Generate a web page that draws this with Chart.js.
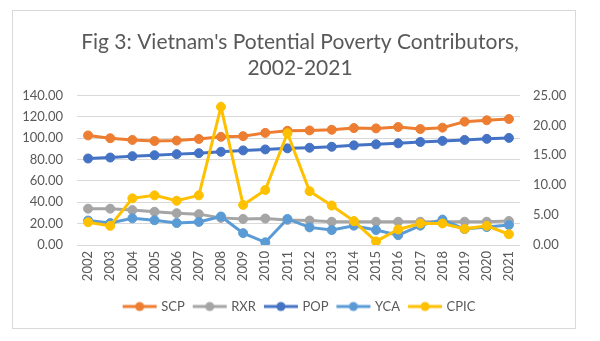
<!DOCTYPE html>
<html>
<head>
<meta charset="utf-8">
<script src="https://cdn.jsdelivr.net/npm/chart.js@4"></script>
<style>
  html, body { margin: 0; padding: 0; background: #ffffff; }
  #frame { position: absolute; left: 12px; top: 10px; width: 564px; height: 319px; border: 1px solid #d9d9d9; box-sizing: border-box; }
  #wrap { position: absolute; left: 0; top: 0; width: 600px; height: 341px; }
</style>
</head>
<body>
<div id="frame"></div>
<div id="wrap"><canvas id="c" width="600" height="341"></canvas></div>
<script>
const years = ["2002","2003","2004","2005","2006","2007","2008","2009","2010","2011","2012","2013","2014","2015","2016","2017","2018","2019","2020","2021"];
const scp  = [102.6,100.0,98.4,97.4,97.8,99.3,101.3,101.9,105.0,107.0,107.3,107.9,109.5,109.2,110.5,108.6,109.9,115.5,116.8,118.0];
const rxr  = [34.0,34.0,32.7,31.1,29.8,28.9,25.4,24.4,24.8,23.5,22.9,21.8,21.8,21.8,21.8,21.8,21.8,21.8,21.8,22.5];
const pop  = [81.0,81.9,83.2,84.1,85.1,86.0,87.3,88.6,89.5,90.5,91.1,92.0,93.3,94.3,95.2,96.5,97.5,98.4,99.4,100.3];
const yca  = [22.9,20.6,25.0,23.2,20.6,21.6,26.7,11.1,2.5,24.4,16.5,14.0,18.1,14.0,9.2,18.1,23.8,14.9,16.8,18.7];
const cpic = [3.8,3.2,7.8,8.3,7.4,8.3,23.1,6.7,9.2,18.7,9.0,6.6,4.0,0.6,2.6,3.6,3.6,2.7,3.2,1.8];
const leftTicks = [0,20,40,60,80,100,120,140];
const rightTicks = [0,5,10,15,20,25];
const seriesNames = ["SCP","RXR","POP","YCA","CPIC"];

const colors = ["#ED7D31","#A5A5A5","#4472C4","#5B9BD5","#FFC000"];
const FONT = "Lato, 'Open Sans', sans-serif";
const GREY = "#595959";

function legendIcon(color) {
  const cv = document.createElement('canvas');
  cv.width = 36; cv.height = 12;
  const g = cv.getContext('2d');
  g.strokeStyle = color; g.lineWidth = 3;
  g.beginPath(); g.moveTo(1, 6); g.lineTo(35, 6); g.stroke();
  g.fillStyle = color;
  g.beginPath(); g.arc(18, 6, 4.5, 0, Math.PI * 2); g.fill();
  return cv;
}
const icons = colors.map(legendIcon);

const seriesData = [scp, rxr, pop, yca, cpic];
const axisFor = ["y","y","y","y","y1"];

const datasets = seriesNames.map((name, i) => ({
  label: name,
  data: seriesData[i],
  yAxisID: axisFor[i],
  borderColor: colors[i],
  backgroundColor: colors[i],
  borderWidth: 3,
  pointRadius: 4.5,
  pointHoverRadius: 4.5,
  pointBorderWidth: 1,
  pointBackgroundColor: colors[i],
  pointBorderColor: colors[i],
  tension: 0,
  fill: false,
  order: 5 - i
}));

new Chart(document.getElementById('c'), {
  type: 'line',
  data: { labels: years, datasets: datasets },
  options: {
    responsive: false,
    animation: false,
    devicePixelRatio: 1,
    layout: { padding: { top: 19, bottom: 18, left: 0, right: 0 } },
    plugins: {
      tooltip: { enabled: false },
      title: {
        display: true,
        text: ["Fig 3: Vietnam's Potential Poverty Contributors,", "2002-2021"],
        color: GREY,
        font: { family: FONT, size: 21, weight: 'normal', lineHeight: 1.25 },
        padding: { top: 10, bottom: 14 }
      },
      legend: {
        position: 'bottom',
        labels: {
          usePointStyle: true,
          pointStyleWidth: 30,
          padding: 10,
          color: GREY,
          font: { family: FONT, size: 13 },
          generateLabels: (chart) => chart.data.datasets.map((ds, i) => ({
            text: ds.label,
            pointStyle: icons[i],
            fillStyle: ds.borderColor,
            strokeStyle: ds.borderColor,
            lineWidth: 0,
            fontColor: GREY,
            hidden: false,
            datasetIndex: i
          }))
        }
      }
    },
    scales: {
      x: {
        offset: true,
        grid: { display: false, drawTicks: false },
        border: { display: false },
        ticks: { color: GREY, font: { family: FONT, size: 13 }, minRotation: 90, maxRotation: 90, padding: 6, autoSkip: false },
        afterFit: (s) => { s.height = 45; }
      },
      y: {
        position: 'left',
        min: 0, max: 140,
        afterBuildTicks: (s) => { s.ticks = leftTicks.map(v => ({ value: v })); },
        grid: { color: '#d9d9d9', lineWidth: 1, drawTicks: false },
        border: { display: false },
        ticks: { color: GREY, font: { family: FONT, size: 13 }, padding: 14, callback: (v) => Number(v).toFixed(2) },
        afterFit: (s) => { s.width = 77; }
      },
      y1: {
        position: 'right',
        min: 0, max: 25,
        afterBuildTicks: (s) => { s.ticks = rightTicks.map(v => ({ value: v })); },
        grid: { display: false, drawTicks: false },
        border: { display: false },
        ticks: { color: GREY, font: { family: FONT, size: 13 }, padding: 13, callback: (v) => Number(v).toFixed(2) },
        afterFit: (s) => { s.width = 80; }
      }
    }
  }
});
</script>
</body>
</html>
